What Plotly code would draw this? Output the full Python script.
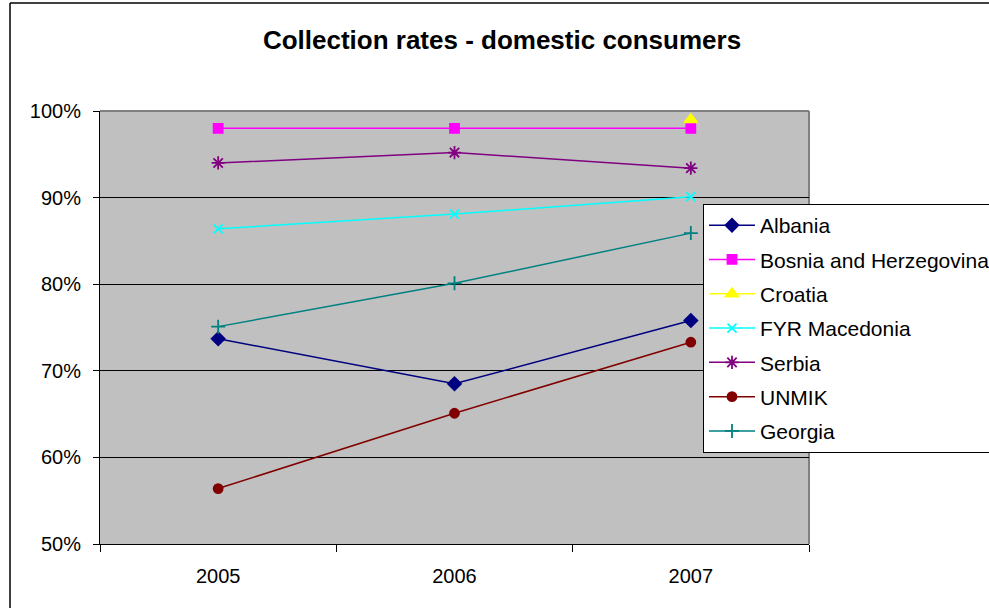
import plotly.graph_objects as go

# Collection rates for domestic consumers, by country and year
years = [2005, 2006, 2007]
albania = [0.737, 0.685, 0.758]
bosnia = [0.98, 0.98, 0.98]
croatia = [None, None, 0.99]
macedonia = [0.864, 0.881, 0.901]
serbia = [0.940, 0.952, 0.934]
unmik = [0.564, 0.651, 0.733]
georgia = [0.751, 0.801, 0.859]

y_ticks = [0.5, 0.6, 0.7, 0.8, 0.9, 1.0]
y_tick_text = ["50%", "60%", "70%", "80%", "90%", "100%"]

series = [
    ("Albania", albania, "#000080", "diamond", 10),
    ("Bosnia and Herzegovina", bosnia, "#FF00FF", "square", 9),
    ("Croatia", croatia, "#FFFF00", "triangle-up", 11),
    ("FYR Macedonia", macedonia, "#00FFFF", "x-thin", 9),
    ("Serbia", serbia, "#800080", "asterisk", 11),
    ("UNMIK", unmik, "#800000", "circle", 9),
    ("Georgia", georgia, "#008080", "cross-thin", 10),
]

fig = go.Figure()
for i, (name, vals, color, symbol, size) in enumerate(series):
    fig.add_trace(go.Scatter(
        x=years, y=vals, name=name, mode="lines+markers",
        legendgroup=f"g{i}",
        line=dict(color=color, width=1.5),
        marker=dict(symbol=symbol, size=size, color=color,
                    line=dict(color=color, width=1.8)),
    ))

font_family = "Liberation Sans, Arial, sans-serif"

# chart frame edges in paper units (plot area spans x 100..809, y 111..544 px)
frame_left = (10 - 100) / 709
frame_top = (544 - 3) / 433
frame_right = (989 - 100) / 709

fig.update_layout(
    width=989, height=608,
    margin=dict(l=100, r=180, t=111, b=64, autoexpand=False),
    paper_bgcolor="white",
    plot_bgcolor="#C0C0C0",
    font=dict(family=font_family, size=20, color="black"),
    title=dict(text="<b>Collection rates - domestic consumers</b>",
               x=(502 / 989), xanchor="center", y=1 - 40 / 608, yanchor="middle",
               font=dict(family=font_family, size=26, color="black")),
    showlegend=True,
    legend=dict(x=(703 - 100) / 709, y=(544 - 204) / 433,
                xanchor="left", yanchor="top",
                bgcolor="white", bordercolor="black", borderwidth=1,
                font=dict(family=font_family, size=21, color="black"),
                tracegroupgap=4, itemwidth=46),
    xaxis=dict(range=[2004.5, 2007.5], tickvals=years,
               ticktext=[str(y) for y in years],
               ticks="", showgrid=False, zeroline=False,
               showline=True, linecolor="black", linewidth=1,
               tickfont=dict(size=20), ticklabelstandoff=14,
               minor=dict(tickvals=[2004.5, 2005.5, 2006.5, 2007.5],
                          ticks="outside", ticklen=7, tickcolor="black",
                          showgrid=False)),
    yaxis=dict(range=[0.5, 1.0], tickvals=y_ticks, ticktext=y_tick_text,
               ticks="outside", ticklen=6, tickcolor="black",
               showgrid=True, gridcolor="black", gridwidth=1,
               zeroline=False, showline=True, linecolor="black", linewidth=1,
               tickfont=dict(size=20), ticklabelstandoff=8),
    shapes=[
        # plot-area top and right edges
        dict(type="line", xref="paper", yref="paper", x0=0, x1=1, y0=1, y1=1,
             line=dict(color="#808080", width=2), layer="between"),
        dict(type="line", xref="paper", yref="paper", x0=1, x1=1, y0=0, y1=1,
             line=dict(color="#808080", width=2), layer="between"),
        # chart frame: top and left edges
        dict(type="line", xref="paper", yref="paper",
             x0=frame_left, x1=frame_right, y0=frame_top, y1=frame_top,
             line=dict(color="black", width=1.5), layer="above"),
        dict(type="line", xref="paper", yref="paper",
             x0=frame_left, x1=frame_left, y0=-0.2, y1=frame_top,
             line=dict(color="black", width=1.5), layer="above"),
    ],
)

fig.write_html("out.html")
